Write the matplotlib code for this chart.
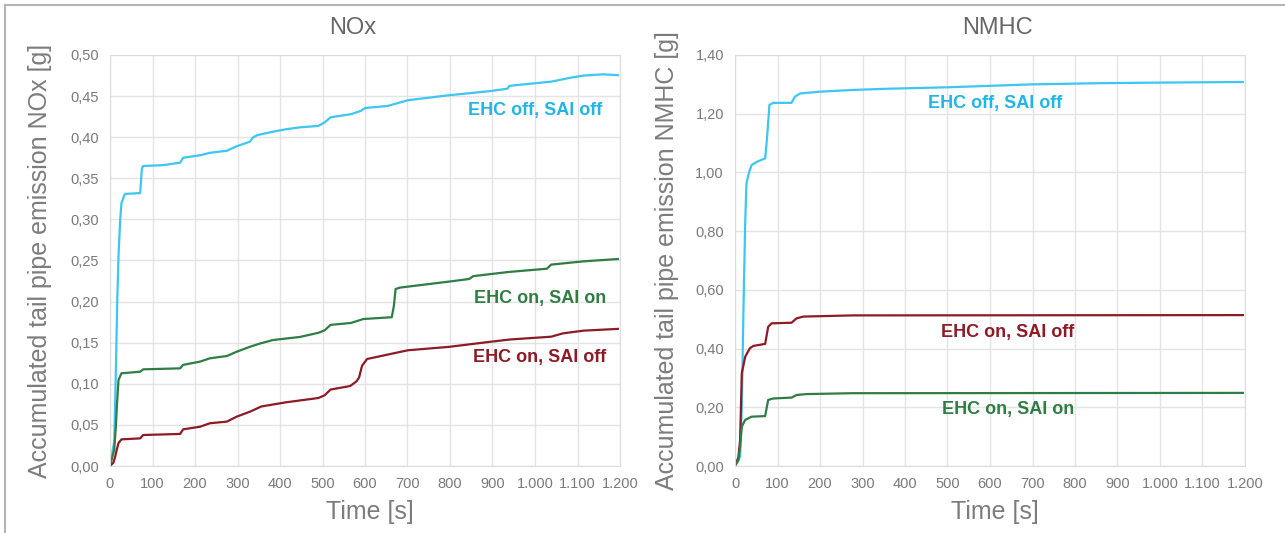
import numpy as np
import matplotlib
matplotlib.use("Agg")
import matplotlib.pyplot as plt
from matplotlib.ticker import FuncFormatter, MultipleLocator
from matplotlib.lines import Line2D

plt.rcParams['font.family'] = ['Liberation Sans', 'DejaVu Sans']

# NOx, accumulated [g]
nox_off_t = [0, 10, 14, 17, 20, 24, 27, 35, 71, 75, 78, 125, 165, 172, 212, 235, 275, 298, 329, 337,
             348, 384, 413, 447, 490, 505, 519, 567, 590, 600, 653, 701, 797, 893, 935, 940, 1038,
             1085, 1115, 1160, 1195]
nox_off_v = [0, 0.03, 0.12, 0.2, 0.255, 0.30, 0.32, 0.331, 0.332, 0.362, 0.365, 0.366, 0.369, 0.375,
             0.378, 0.381, 0.3835, 0.389, 0.3945, 0.400, 0.4027, 0.4067, 0.4096, 0.412, 0.4137, 0.418,
             0.4242, 0.428, 0.432, 0.4355, 0.438, 0.445, 0.451, 0.456, 0.459, 0.4625, 0.4676, 0.4725,
             0.475, 0.4765, 0.4755]

nox_onon_t = [0, 10, 14, 16, 20, 27, 71, 78, 165, 172, 212, 235, 275, 298, 329, 353, 384, 413, 447,
              490, 505, 519, 567, 596, 663, 668, 672, 682, 797, 845, 855, 937, 1028, 1038, 1115, 1195]
nox_onon_v = [0, 0.02, 0.05, 0.072, 0.1046, 0.1128, 0.1147, 0.1176, 0.1188, 0.123, 0.127, 0.131,
              0.1338, 0.139, 0.145, 0.149, 0.1533, 0.155, 0.157, 0.162, 0.165, 0.1717, 0.174, 0.1788,
              0.181, 0.195, 0.2153, 0.217, 0.2243, 0.2275, 0.231, 0.236, 0.24, 0.245, 0.249, 0.2518]

nox_onoff_t = [0, 8, 12, 16, 20, 27, 71, 78, 165, 172, 212, 235, 275, 298, 329, 356, 413, 490, 505,
               519, 565, 580, 586, 593, 605, 663, 701, 797, 893, 941, 1038, 1066, 1115, 1195]
nox_onoff_v = [0, 0.004, 0.011, 0.02, 0.028, 0.0324, 0.0336, 0.0377, 0.039, 0.0446, 0.0478, 0.052,
               0.054, 0.06, 0.066, 0.0724, 0.0774, 0.0827, 0.086, 0.093, 0.0973, 0.103, 0.1076, 0.122,
               0.1302, 0.1366, 0.1408, 0.1449, 0.151, 0.1539, 0.1573, 0.1614, 0.1647, 0.1668]

# NMHC, accumulated [g]
nmhc_off_t = [0, 12, 16, 20, 24, 27, 33, 39, 51, 71, 75, 81, 90, 133, 141, 153, 200, 278, 357, 500,
              600, 700, 860, 1000, 1195]
nmhc_off_v = [0, 0.032, 0.2, 0.54, 0.83, 0.963, 1.0, 1.025, 1.036, 1.048, 1.11, 1.23, 1.237, 1.237,
              1.258, 1.269, 1.275, 1.281, 1.285, 1.29, 1.295, 1.300, 1.304, 1.306, 1.308]

nmhc_onoff_t = [0, 8, 12, 16, 24, 35, 43, 71, 78, 86, 133, 145, 161, 278, 1195]
nmhc_onoff_v = [0, 0.03, 0.089, 0.316, 0.372, 0.401, 0.409, 0.416, 0.474, 0.486, 0.488, 0.503, 0.509,
                0.513, 0.514]

nmhc_onon_t = [0, 8, 12, 16, 24, 39, 71, 78, 90, 133, 145, 169, 278, 1195]
nmhc_onon_v = [0, 0.02, 0.066, 0.134, 0.157, 0.168, 0.170, 0.225, 0.23, 0.233, 0.242, 0.245, 0.248,
               0.249]

C_OFF = "#3ec6f2"
C_ONON = "#2f7d44"
C_ONOFF = "#8c1b25"
TXT_OFF = "#22b5e8"

def dec_fmt(v, pos):
    return ("%.2f" % v).replace(".", ",")

def time_fmt(v, pos):
    v = int(round(v))
    if v >= 1000:
        return "%d.%03d" % (v // 1000, v % 1000)
    return str(v)

W, H = 1285, 533
fig = plt.figure(figsize=(W / 100, H / 100), dpi=100)

ax1 = fig.add_axes([110 / W, (H - 466) / H, 510 / W, 411 / H])
ax2 = fig.add_axes([735 / W, (H - 466) / H, 510 / W, 411 / H])

ax1.plot(nox_off_t, nox_off_v, color=C_OFF, lw=1.6)
ax1.plot(nox_onon_t, nox_onon_v, color=C_ONON, lw=1.6)
ax1.plot(nox_onoff_t, nox_onoff_v, color=C_ONOFF, lw=1.6)
ax1.set_ylim(0, 0.5)
ax1.yaxis.set_major_locator(MultipleLocator(0.05))

ax2.plot(nmhc_off_t, nmhc_off_v, color=C_OFF, lw=1.6)
ax2.plot(nmhc_onoff_t, nmhc_onoff_v, color=C_ONOFF, lw=1.6)
ax2.plot(nmhc_onon_t, nmhc_onon_v, color=C_ONON, lw=1.6)
ax2.set_ylim(0, 1.4)
ax2.yaxis.set_major_locator(MultipleLocator(0.2))

for ax, gas in [(ax1, "NOx"), (ax2, "NMHC")]:
    ax.set_xlim(0, 1200)
    ax.xaxis.set_major_locator(MultipleLocator(100))
    ax.xaxis.set_major_formatter(FuncFormatter(time_fmt))
    ax.yaxis.set_major_formatter(FuncFormatter(dec_fmt))
    ax.grid(True, color="#e4e4e4", lw=1)
    ax.set_axisbelow(True)
    for s in ax.spines.values():
        s.set_color("#dcdcdc")
    ax.tick_params(length=0, labelsize=10.5, labelcolor="#7a7a7a", pad=8)
    ax.set_ylabel("Accumulated tail pipe emission %s [g]" % gas, fontsize=18, color="#7c7c7c")
    ax.set_xlabel("Time [s]", fontsize=18, color="#7c7c7c")
    ax.xaxis.set_label_coords(0.51, -0.083)

ax1.yaxis.set_label_coords(-0.114, 0.5)
ax2.yaxis.set_label_coords(-0.11, 0.5)

fig.text(353 / W, 1 - 28 / H, "NOx", ha="center", va="center", fontsize=17, color="#666666")
fig.text(997 / W, 1 - 28 / H, "NMHC", ha="center", va="center", fontsize=17, color="#666666")

kw = dict(ha="center", va="center", fontsize=13, fontweight="bold")
ax1.text(1000, 0.433, "EHC off, SAI off", color=TXT_OFF, **kw)
ax1.text(1012, 0.204, "EHC on, SAI on", color=C_ONON, **kw)
ax1.text(1012, 0.1326, "EHC on, SAI off", color=C_ONOFF, **kw)
ax2.text(612, 1.236, "EHC off, SAI off", color=TXT_OFF, **kw)
ax2.text(642, 0.456, "EHC on, SAI off", color=C_ONOFF, **kw)
ax2.text(642, 0.191, "EHC on, SAI on", color=C_ONON, **kw)

# thin frame on top and left of the picture
fr = dict(color="#b5b5b5", lw=1.5, transform=fig.transFigure)
fig.add_artist(Line2D([5 / W, 1.0], [1 - 5 / H, 1 - 5 / H], **fr))
fig.add_artist(Line2D([5 / W, 5 / W], [0, 1 - 5 / H], **fr))

fig.savefig("out.png", dpi=100)
